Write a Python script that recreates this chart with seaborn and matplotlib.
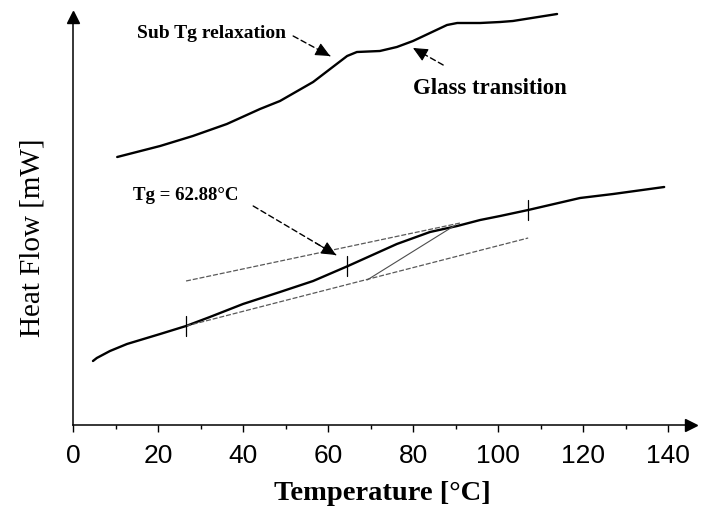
import matplotlib
matplotlib.use("Agg")
import matplotlib.pyplot as plt
import seaborn as sns
import pandas as pd

# ---- data ----
upper_temp = [10.4, 20.5, 28.2, 36.2, 44.0, 48.7, 56.5, 60.5, 64.5, 66.8, 72.2,
              76.2, 80.0, 84.0, 88.0, 90.4, 95.8, 100.5, 103.5, 113.9]
upper_flow = [2.68, 2.79, 2.89, 3.01, 3.16, 3.24, 3.43, 3.56, 3.69, 3.73, 3.74,
              3.78, 3.84, 3.92, 4.00, 4.02, 4.02, 4.03, 4.04, 4.11]

lower_temp = [4.7, 5.6, 8.7, 12.7, 20.5, 26.6, 32.2, 40.0, 48.7, 56.5, 64.7,
              76.2, 84.0, 90.4, 95.8, 100.5, 107.1, 119.3, 127.1, 139.1]
lower_flow = [0.64, 0.67, 0.74, 0.81, 0.91, 0.99, 1.08, 1.21, 1.33, 1.44, 1.59,
              1.81, 1.93, 1.99, 2.05, 2.09, 2.15, 2.27, 2.31, 2.38]

tangent_upper_x = [26.6, 91.1]
tangent_upper_y = [1.44, 2.02]
tangent_lower_x = [26.6, 107.1]
tangent_lower_y = [0.99, 1.87]
diagonal_x = [69.2, 90.0]
diagonal_y = [1.45, 2.00]

marker_temp = [26.6, 64.5, 107.1]
marker_flow = [0.99, 1.59, 2.15]

x_ticks = [0, 20, 40, 60, 80, 100, 120, 140]
x_minor = [10, 30, 50, 70, 90, 110, 130]

tg_label = "Tg = 62.88°C"

# ---- plot ----
sns.set_style("white")
plt.rcParams["font.family"] = ["Liberation Serif", "DejaVu Serif"]
plt.rcParams["text.color"] = "black"
plt.rcParams["axes.labelcolor"] = "black"
plt.rcParams["xtick.color"] = "black"

fig = plt.figure(figsize=(7.01, 5.10), dpi=100)
W, H = 701, 510
x0, y0 = 73, 426
x1, y1 = 691, 18
ax = fig.add_axes([x0 / W, (H - y0) / H, (x1 - x0) / W, (y0 - y1) / H])

px_per_deg = 4.25
ax.set_xlim(0, (x1 - x0) / px_per_deg)
ax.set_ylim(0, (y0 - y1) / 100)

df_up = pd.DataFrame({"Temperature": upper_temp, "Heat Flow": upper_flow})
df_lo = pd.DataFrame({"Temperature": lower_temp, "Heat Flow": lower_flow})
sns.lineplot(data=df_up, x="Temperature", y="Heat Flow", ax=ax, color="black",
             lw=1.7, sort=False, estimator=None)
sns.lineplot(data=df_lo, x="Temperature", y="Heat Flow", ax=ax, color="black",
             lw=1.7, sort=False, estimator=None)
for ln in ax.lines:
    ln.set_clip_on(False)
    ln.set_solid_joinstyle("round")
    ln.set_solid_capstyle("round")

# tangent construction lines
for xs, ys in [(tangent_upper_x, tangent_upper_y), (tangent_lower_x, tangent_lower_y)]:
    ax.plot(xs, ys, color="0.35", lw=0.9, dashes=(4, 1.5))
ax.plot(diagonal_x, diagonal_y, color="0.3", lw=0.8)

# small vertical marks on the curve
for t, f in zip(marker_temp, marker_flow):
    ax.plot([t, t], [f - 0.1, f + 0.1], color="black", lw=0.9)


def dashed_arrow(tip, tail):
    # dashed shaft
    ax.annotate("", xy=tip, xytext=tail,
                arrowprops=dict(arrowstyle="-", color="black", lw=1.0,
                                linestyle=(0, (4, 2.5)), shrinkA=0, shrinkB=0))
    # solid filled head
    back = (tip[0] + 0.25 * (tail[0] - tip[0]), tip[1] + 0.25 * (tail[1] - tip[1]))
    ax.annotate("", xy=tip, xytext=back,
                arrowprops=dict(arrowstyle="-|>,head_length=0.9,head_width=0.42",
                                color="black", lw=0.8, shrinkA=0, shrinkB=0))


# annotations
ax.text(15.1, 3.93, "Sub Tg relaxation", ha="left", va="center",
        fontsize=14, fontweight="bold")
dashed_arrow((60.5, 3.69), (51.8, 3.89))
dashed_arrow((80.0, 3.77), (87.1, 3.60))
ax.text(80.0, 3.38, "Glass transition", ha="left", va="center",
        fontsize=16.4, fontweight="bold")
ax.text(14.1, 2.31, tg_label, ha="left", va="center", fontsize=13.6,
        fontweight="bold")
dashed_arrow((61.9, 1.70), (42.4, 2.19))

# axes styling
for s in ["top", "right"]:
    ax.spines[s].set_visible(False)
for s in ["left", "bottom"]:
    ax.spines[s].set_linewidth(1.1)
    ax.spines[s].set_color("black")
ax.plot(1, 0, ">k", transform=ax.transAxes, clip_on=False, markersize=9)
ax.plot(0, 1, "^k", transform=ax.transAxes, clip_on=False, markersize=9)

ax.set_yticks([])
ax.set_xticks(x_ticks)
ax.set_xticks(x_minor, minor=True)
ax.set_xticklabels([str(v) for v in x_ticks], family=["Liberation Sans"], fontsize=19)
ax.tick_params(axis="x", which="major", direction="out", length=5, width=1,
               color="black", bottom=True, pad=8)
ax.tick_params(axis="x", which="minor", direction="out", length=3, width=1,
               color="black", bottom=True)

ax.set_xlabel("Temperature [°C]", fontsize=20.5, fontweight="bold", labelpad=9)
ax.set_ylabel("Heat Flow [mW]", fontsize=21, labelpad=10)
ax.yaxis.set_label_coords(-27 / (x1 - x0), (y0 - 238) / (y0 - y1))

fig.savefig("out.png", dpi=100)
